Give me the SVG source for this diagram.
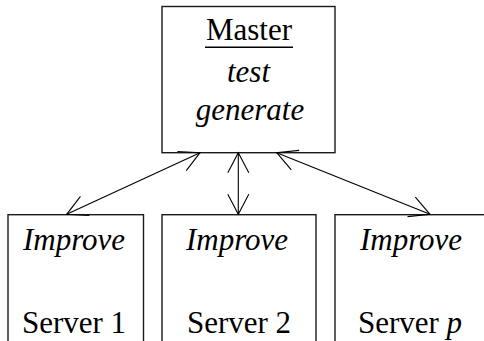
<svg xmlns="http://www.w3.org/2000/svg" width="484" height="341" viewBox="0 0 484 341">
  <style>
    .box { fill: #ffffff; stroke: #1a1a1a; stroke-width: 1.4; }
    .lbl { font-family: 'Liberation Serif', 'DejaVu Serif', serif; font-size: 31px; fill: #000000; text-anchor: middle; }
    .it { font-style: italic; }
    .link { fill: none; stroke: #000000; stroke-width: 1.1; marker-start: url(#tip); marker-end: url(#tip); }
  </style>
  <defs>
    <marker id="tip" markerUnits="userSpaceOnUse" markerWidth="24" markerHeight="24" viewBox="-22 -12 24 24" refX="0" refY="0" orient="auto-start-reverse" overflow="visible">
      <path d="M -20 -10.5 L 0 0 L -20 10.5" fill="none" stroke="#000000" stroke-width="1.1"/>
    </marker>
  </defs>
  <rect width="484" height="341" fill="#ffffff"/>

  <g id="master">
    <rect class="box" x="162" y="6.5" width="173" height="146.2"/>
    <text class="lbl" x="249" y="40">Master</text>
    <line x1="205" y1="47.3" x2="293" y2="47.3" stroke="#000000" stroke-width="1.6"/>
    <text class="lbl it" x="248.5" y="82">test</text>
    <text class="lbl it" x="250" y="120">generate</text>
  </g>

  <g id="server1">
    <rect class="box" x="8" y="214.7" width="135.5" height="140"/>
    <text class="lbl it" x="74" y="250">Improve</text>
    <text class="lbl" x="74" y="333.3">Server 1</text>
  </g>

  <g id="server2">
    <rect class="box" x="162" y="214.7" width="154" height="140"/>
    <text class="lbl it" x="237" y="250">Improve</text>
    <text class="lbl" x="239" y="333.3">Server 2</text>
  </g>

  <g id="serverp">
    <rect class="box" x="335" y="214.7" width="152" height="140"/>
    <text class="lbl it" x="411" y="250">Improve</text>
    <text class="lbl" x="410" y="333.3">Server <tspan class="it">p</tspan></text>
  </g>

  <g id="connectors">
    <line class="link" x1="200" y1="152.7" x2="66.7" y2="214.3"/>
    <line class="link" x1="238.3" y1="152.7" x2="238.3" y2="214.3"/>
    <line class="link" x1="276.7" y1="152.7" x2="430" y2="214.3"/>
  </g>
</svg>
